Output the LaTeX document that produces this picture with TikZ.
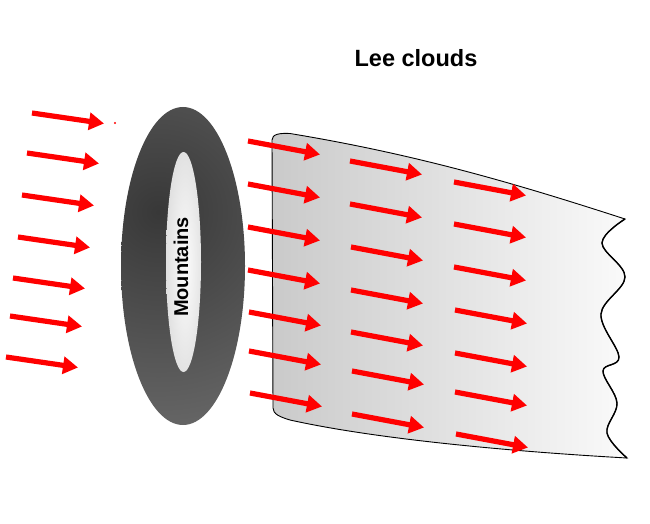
\documentclass[tikz,border=0pt]{standalone}
\usepackage{fontspec}
\setsansfont{Liberation Sans}
\definecolor{windred}{RGB}{255, 0, 0}
\definecolor{ringdark}{RGB}{56, 56, 56}
\definecolor{ringgray}{RGB}{102, 102, 102}
\definecolor{holelight}{RGB}{252, 252, 252}
\definecolor{holeedge}{RGB}{200, 200, 200}
\definecolor{cloudleft}{RGB}{202, 202, 202}
\definecolor{cloudright}{RGB}{250, 250, 250}
\usepackage{tikz}
\usetikzlibrary{arrows.meta}

\tikzset{
  wind/.style={draw=windred, line width=5.2pt, -{Triangle[length=15pt, width=17pt]}},
  label/.style={font=\sffamily\bfseries, text=black, inner sep=0pt}
}

\begin{document}
\begin{tikzpicture}[x=1pt, y=-1pt]
  \useasboundingbox (0,0) rectangle (650,524);

  % Lee cloud band
  \shade[left color=cloudleft, right color=cloudright, draw=black, line width=0.9pt]
    (272,140) .. controls (272,134) and (280,133) .. (290,133.5)
    .. controls (420,155) and (520,185) .. (625,219)
    -- plot[smooth, tension=0.6] coordinates {(625,219) (602,243) (625,277) (601,314) (619,357) (603,371) (617,403) (607,433) (627,458)}
    .. controls (520,452) and (380,440) .. (290,420)
    .. controls (280,417) and (273,414) .. (273,408) -- cycle;
  \draw[line width=1.4pt] plot[smooth, tension=0.6] coordinates {(625,219) (602,243) (625,277) (601,314) (619,357) (603,371) (617,403) (607,433) (627,458)};

  % Mountain ring
  \begin{scope}
    \clip (183,266) ellipse [x radius=62, y radius=159];
    \shade[inner color=ringdark, outer color=ringgray] (158,212) circle (220);
  \end{scope}
  \begin{scope}
    \clip (183.5,262) ellipse [x radius=17.5, y radius=110];
    \shade[inner color=holelight, outer color=holeedge] (185,266) ellipse [x radius=36, y radius=224];
  \end{scope}
  \node[label, font=\fontsize{20}{22}\sffamily\bfseries, rotate=90] (mountains) at (181,267) {Mountains};

  % Title
  \node[label, font=\fontsize{23.5}{26}\sffamily\bfseries] (title) at (416,58) {Lee clouds};

  % Incoming wind
  \foreach \x/\y in {32/113, 27/153, 22/195, 18/237, 13/278, 10/316, 6/357}
    \draw[wind] (\x,\y) -- ++(72,10.5);
  \fill[windred] (115,123) circle (1.2);

  % Wind over the lee side
  \foreach \x/\y in {248/141, 248/184, 248/227, 248/270, 249/312, 249/351, 250/393,
                     350/161, 350/204, 351/247, 351/290, 351/332, 352/371, 352/414,
                     454/182, 454/224, 454/267, 455/310, 455/353, 455/392, 456/434}
    \draw[wind] (\x,\y) -- ++(72,13.5);
\end{tikzpicture}
\end{document}
